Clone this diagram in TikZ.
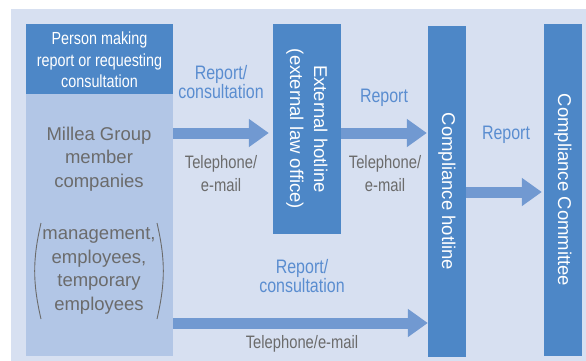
\documentclass[tikz,border=0pt]{standalone}
\usepackage{fontspec}
\setmainfont{Liberation Sans}
\newfontfamily\condfont{Liberation Sans}[FakeStretch=0.82]
\usetikzlibrary{arrows.meta}
\usetikzlibrary{positioning}
\definecolor{boxblue}{HTML}{4D87C7}
\definecolor{bodyblue}{HTML}{B2C6E6}
\definecolor{backblue}{HTML}{D7E0F1}
\definecolor{arrowblue}{HTML}{7199D1}
\definecolor{lblblue}{HTML}{5A8DD0}
\definecolor{lblgrey}{HTML}{6B6B6B}
\tikzset{
    darkbox/.style = {fill=boxblue, draw=none, inner sep=0pt},
    lightbox/.style = {fill=bodyblue, draw=none, inner sep=0pt},
    boxtext/.style = {text=white, align=center, inner sep=0pt, font=\fontsize{18.5}{24}\selectfont},
    headtext/.style = {text=white, align=center, inner sep=0pt, font=\condfont\fontsize{17.5}{21.5}\selectfont},
    maintext/.style = {text=lblgrey, align=center, inner sep=0pt, font=\fontsize{18.5}{23.5}\selectfont},
    bluelbl/.style = {text=lblblue, align=center, inner sep=0pt, font=\condfont\fontsize{19.5}{17.5}\selectfont},
    greylbl/.style = {text=lblgrey, align=center, inner sep=0pt, font=\condfont\fontsize{18}{23}\selectfont},
    arr/.style = {line width=11pt, arrowblue, -{Triangle[length=20pt,width=27pt]}},
    paren/.style = {lblgrey, line width=0.9pt},
}
\begin{document}
\begin{tikzpicture}[x=1pt, y=-1pt]
\useasboundingbox (0,0) rectangle (586,361);
\fill[backblue] (11,9) rectangle (586,361);
\node[lightbox, minimum width=147, minimum height=262] at (99.5,225) (body) {};
\node[darkbox, minimum width=147, minimum height=70] at (99.5,59) (head) {};
\node[headtext] at (99.5,60) (headt) {Person making\\report or requesting\\consultation};
\node[maintext] at (99,159) (firms) {Millea Group\\member\\companies};
\node[maintext] at (99,271) (staff) {management,\\employees,\\temporary\\employees};
\draw[paren] ([shift={(-58,-48)}]staff.center) to[bend right=13] ([shift={(-58,48)}]staff.center);
\draw[paren] ([shift={(58,-48)}]staff.center) to[bend left=13] ([shift={(58,48)}]staff.center);
\node[darkbox, minimum width=68, minimum height=210] at (307,129) (ext) {};
\node[boxtext, rotate=-90] at (ext) (extt) {External hotline\\(external law office)};
\node[darkbox, minimum width=38, minimum height=331] at (447,191.5) (hot) {};
\node[boxtext, rotate=-90] at (hot) (hott) {Compliance hotline};
\node[darkbox, minimum width=38, minimum height=332] at (563,190) (comm) {};
\node[boxtext, rotate=-90] at (comm) (commt) {Compliance Committee};
\draw[arr, shorten >=4pt] (body.east |- 0,133) -- (ext.west |- 0,133);
\draw[arr, shorten >=1pt] (ext.east |- 0,133) -- (hot.west |- 0,133);
\draw[arr, shorten >=2pt] (hot.east |- 0,192) -- (comm.west |- 0,192);
\draw[arr] (body.east |- 0,323) -- (hot.west |- 0,323);
\node[bluelbl] at (221,82) (rc1) {Report/\\consultation};
\node[greylbl] at (221,174) (te1) {Telephone/\\e-mail};
\node[bluelbl] at (384,98) (rp2) {Report};
\node[greylbl] at (385,174) (te2) {Telephone/\\e-mail};
\node[bluelbl] at (506,135) (rp3) {Report};
\node[bluelbl] at (302,276) (rc4) {Report/\\consultation};
\node[greylbl] at (302,344) (te4) {Telephone/e-mail};
\end{tikzpicture}
\end{document}
